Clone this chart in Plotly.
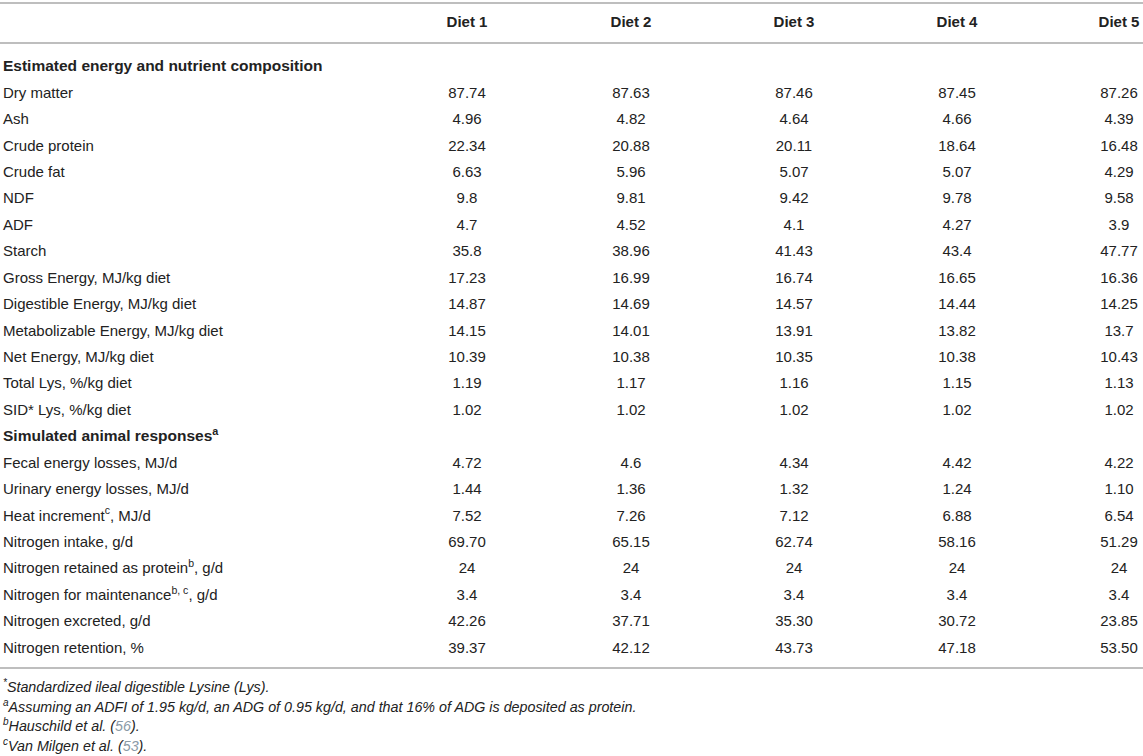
import plotly.graph_objects as go

# Table content
diets = ["Diet 1", "Diet 2", "Diet 3", "Diet 4", "Diet 5"]

section_1 = "Estimated energy and nutrient composition"
rows_1 = [
    "Dry matter", "Ash", "Crude protein", "Crude fat", "NDF", "ADF", "Starch",
    "Gross Energy, MJ/kg diet", "Digestible Energy, MJ/kg diet",
    "Metabolizable Energy, MJ/kg diet", "Net Energy, MJ/kg diet",
    "Total Lys, %/kg diet", "SID* Lys, %/kg diet",
]
section_2 = "Simulated animal responses<sup>a</sup>"
rows_2 = [
    "Fecal energy losses, MJ/d", "Urinary energy losses, MJ/d",
    "Heat increment<sup>c</sup>, MJ/d", "Nitrogen intake, g/d",
    "Nitrogen retained as protein<sup>b</sup>, g/d",
    "Nitrogen for maintenance<sup>b, c</sup>, g/d",
    "Nitrogen excreted, g/d", "Nitrogen retention, %",
]

diet1 = ["87.74", "4.96", "22.34", "6.63", "9.8", "4.7", "35.8", "17.23", "14.87", "14.15", "10.39", "1.19", "1.02",
         "4.72", "1.44", "7.52", "69.70", "24", "3.4", "42.26", "39.37"]
diet2 = ["87.63", "4.82", "20.88", "5.96", "9.81", "4.52", "38.96", "16.99", "14.69", "14.01", "10.38", "1.17", "1.02",
         "4.6", "1.36", "7.26", "65.15", "24", "3.4", "37.71", "42.12"]
diet3 = ["87.46", "4.64", "20.11", "5.07", "9.42", "4.1", "41.43", "16.74", "14.57", "13.91", "10.35", "1.16", "1.02",
         "4.34", "1.32", "7.12", "62.74", "24", "3.4", "35.30", "43.73"]
diet4 = ["87.45", "4.66", "18.64", "5.07", "9.78", "4.27", "43.4", "16.65", "14.44", "13.82", "10.38", "1.15", "1.02",
         "4.42", "1.24", "6.88", "58.16", "24", "3.4", "30.72", "47.18"]
diet5 = ["87.26", "4.39", "16.48", "4.29", "9.58", "3.9", "47.77", "16.36", "14.25", "13.7", "10.43", "1.13", "1.02",
         "4.22", "1.10", "6.54", "51.29", "24", "3.4", "23.85", "53.50"]

footnotes = [
    "<sup>*</sup>Standardized ileal digestible Lysine (Lys).",
    "<sup>a</sup>Assuming an ADFI of 1.95 kg/d, an ADG of 0.95 kg/d, and that 16% of ADG is deposited as protein.",
    "<sup>b</sup>Hauschild et al. (<span style='color:#8a9aa6'>56</span>).",
    "<sup>c</sup>Van Milgen et al. (<span style='color:#8a9aa6'>53</span>).",
]

# Layout in page pixel units
W, H = 1143, 756
FONT = "Liberation Sans, Arial, sans-serif"
TXT = "#222222"
RULE = "#a8a8a8"
col_x = [467, 631, 794, 957, 1119]
label_x = 3
row_top = 67.5
row_h = 26.43
header_y = 23

labels = [f"<b>{section_1}</b>"] + rows_1 + [f"<b>{section_2}</b>"] + rows_2
label_y = [row_top + i * row_h for i in range(len(labels))]
is_section = [lab.startswith("<b>") for lab in labels]
data_y = [y for y, s in zip(label_y, is_section) if not s]

fig = go.Figure()

# row labels
fig.add_trace(go.Scatter(
    x=[label_x] * len(labels), y=label_y, mode="text", text=labels,
    textposition="middle right",
    textfont=dict(size=[15.5 if s else 15 for s in is_section], color=TXT, family=FONT),
    hoverinfo="skip", showlegend=False, cliponaxis=False,
))

# column headers
fig.add_trace(go.Scatter(
    x=col_x, y=[header_y] * len(diets), mode="text",
    text=[f"<b>{d}</b>" for d in diets],
    textposition="middle center", textfont=dict(size=15, color=TXT, family=FONT),
    hoverinfo="skip", showlegend=False, cliponaxis=False,
))

# values, one trace per diet
for cx, vals in zip(col_x, [diet1, diet2, diet3, diet4, diet5]):
    fig.add_trace(go.Scatter(
        x=[cx] * len(vals), y=data_y, mode="text", text=vals,
        textposition="middle center", textfont=dict(size=15, color=TXT, family=FONT),
        hoverinfo="skip", showlegend=False, cliponaxis=False,
    ))

# footnotes
fig.add_trace(go.Scatter(
    x=[label_x] * len(footnotes), y=[688.5 + i * 19.6 for i in range(len(footnotes))],
    mode="text", text=[f"<i>{f}</i>" for f in footnotes],
    textposition="middle right", textfont=dict(size=14.3, color=TXT, family=FONT),
    hoverinfo="skip", showlegend=False, cliponaxis=False,
))

# horizontal rules
for y in [3, 43, 668]:
    fig.add_shape(type="line", x0=0, x1=W, y0=y, y1=y, xref="x", yref="y",
                  line=dict(color=RULE, width=1.5))

fig.update_layout(
    width=W, height=H,
    margin=dict(l=0, r=0, t=0, b=0),
    paper_bgcolor="white", plot_bgcolor="white",
    xaxis=dict(range=[0, W], visible=False, fixedrange=True),
    yaxis=dict(range=[H, 0], visible=False, fixedrange=True),
)

# drop the default page margin so the table sits flush with the window
fig.write_html("out.html", config={"displayModeBar": False},
               post_script="document.body.style.margin='0';")
